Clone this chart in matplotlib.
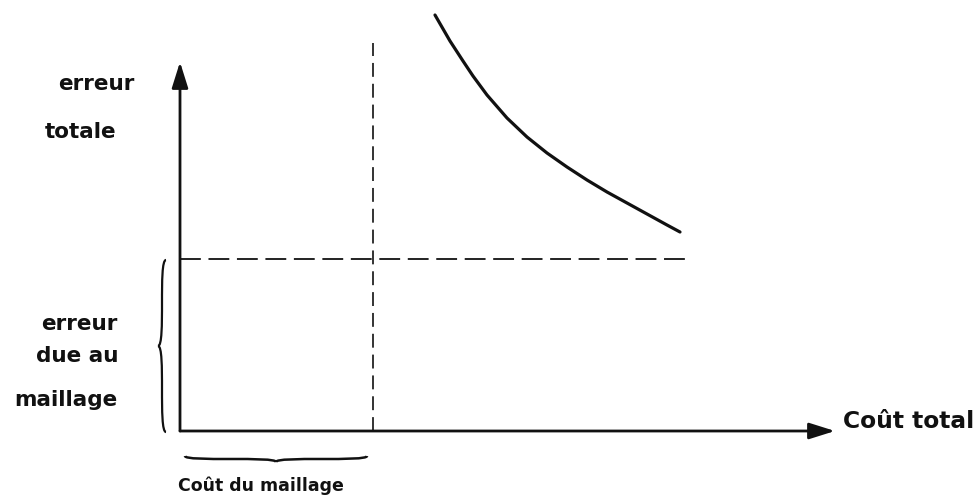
import matplotlib
matplotlib.use("Agg")
import matplotlib.pyplot as plt
import numpy as np
from matplotlib.path import Path
from matplotlib.patches import PathPatch

plt.rcParams["lines.scale_dashes"] = False
plt.rcParams["font.family"] = ["DejaVu Sans"]

# Schematic: total error versus total cost
curve_cost = [255, 270, 283, 293, 307, 327, 347, 367, 387, 407, 427, 447, 467, 487, 500]
curve_error = [416, 390, 370, 355, 336, 313, 294, 278, 264, 251, 239, 228, 217, 206, 199]

mesh_cost = 193      # cost of the mesh (vertical dashed line)
mesh_error = 172     # error due to the mesh (horizontal dashed line)
x_axis_end = 655
y_axis_end = 369
mesh_cost_line_top = 388
mesh_error_line_end = 512

label_total_error = ["erreur", "totale"]
label_mesh_error = ["erreur", "due au", "maillage"]
label_total_cost = "Coût total"
label_mesh_cost = "Coût du maillage"

fig = plt.figure(figsize=(9.78, 4.96), dpi=100)
ax = fig.add_axes([0, 0, 1, 1])
ax.set_xlim(-180, 798)
ax.set_ylim(-65, 431)
ax.axis("off")

ink = "#111111"

# axes with arrow heads
arrow = dict(arrowstyle="-|>,head_length=1.05,head_width=0.33", lw=2.0,
             color=ink, shrinkA=0, shrinkB=0, mutation_scale=15)
ax.annotate("", xy=(0, y_axis_end), xytext=(0, 0), arrowprops=arrow)
ax.annotate("", xy=(x_axis_end, 0), xytext=(0, 0), arrowprops=arrow)

# dashed reference lines
ax.plot([mesh_cost, mesh_cost], [0, mesh_cost_line_top], color=ink, lw=1.2,
        linestyle=(0, (10, 5)))
ax.plot([0, mesh_error_line_end], [mesh_error, mesh_error], color=ink, lw=1.3,
        linestyle=(0, (15, 5.5)))

# total error curve
ax.plot(curve_cost, curve_error, color=ink, lw=2.3, solid_capstyle="round",
        solid_joinstyle="round")


def brace(p0, p1, depth, normal, lw=1.6):
    p0 = np.asarray(p0, float)
    p1 = np.asarray(p1, float)
    along = p1 - p0
    length = np.hypot(*along)
    a = along / length
    n = np.asarray(normal, float)
    local = [(0, 0), (0, depth), (length / 2, 0), (length / 2, depth),
             (length / 2, 0), (length, depth), (length, 0)]
    verts = [p0 + u * a + v * n for u, v in local]
    codes = [Path.MOVETO] + [Path.CURVE4] * 6
    ax.add_patch(PathPatch(Path(verts, codes), fill=False, lw=lw, color=ink))


brace((-14, 171), (-14, -1), 8, (-1, 0))
brace((5, -25), (187, -25), 6, (0, -1), lw=1.8)

font = dict(fontsize=15.5, fontweight="bold", color=ink, va="baseline")
ax.text(58 - 180, 431 - 90, label_total_error[0], ha="left", **font)
ax.text(45 - 180, 431 - 138, label_total_error[1], ha="left", **font)
ax.text(118 - 180, 431 - 330, label_mesh_error[0], ha="right", **font)
ax.text(118 - 180, 431 - 362, label_mesh_error[1], ha="right", **font)
ax.text(118 - 180, 431 - 406, label_mesh_error[2], ha="right", **font)

ax.text(843 - 180, 431 - 428, label_total_cost, ha="left", fontsize=16.8,
        fontweight="bold", color=ink, va="baseline")
ax.text(178 - 180, 431 - 491, label_mesh_cost, ha="left", fontsize=12.5,
        fontweight="bold", color=ink, va="baseline")

fig.savefig("out.png", dpi=100, facecolor="white")
